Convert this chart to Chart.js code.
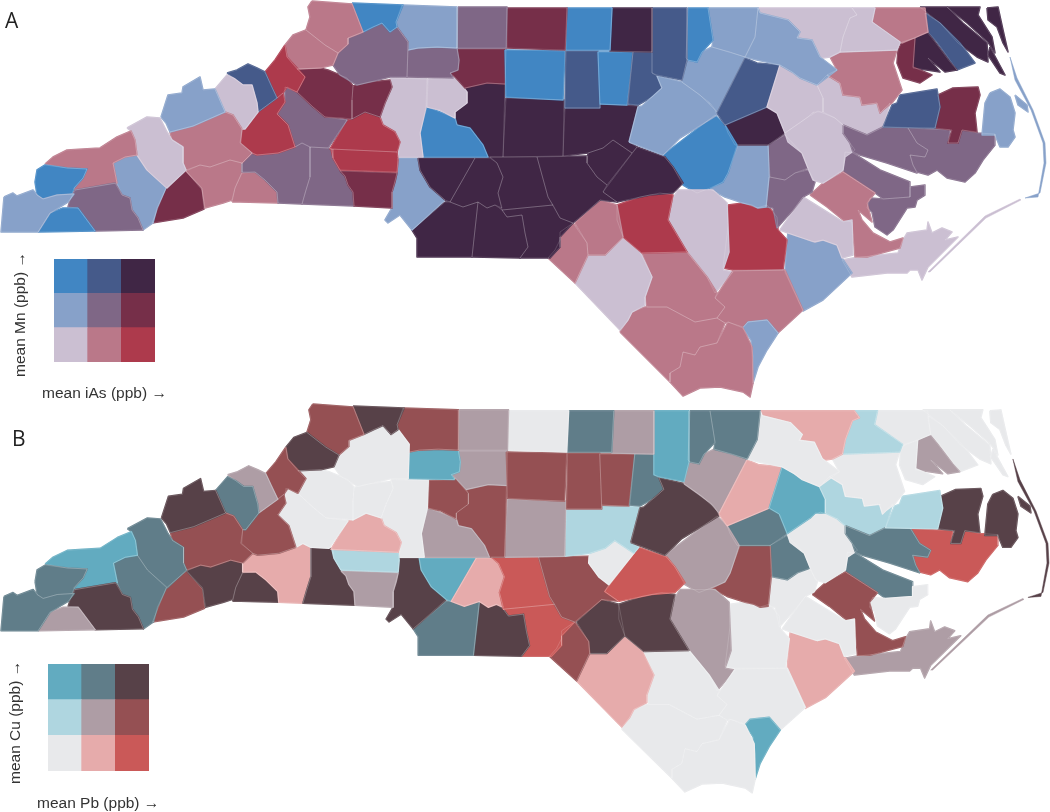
<!DOCTYPE html>
<html>
<head>
<meta charset="utf-8">
<title>Bivariate county maps</title>
<script src="https://cdn.jsdelivr.net/npm/chart.js@4/dist/chart.umd.min.js"></script>
<style>
  html, body { margin: 0; padding: 0; background: #fff; overflow: hidden; }
  #page { position: relative; width: 1050px; height: 812px; font-family: "Liberation Sans", Arial, sans-serif; color: #333; }
  .box { position: absolute; }
  .box canvas { display: block; }
  .map { filter: blur(0.5px); }
  .letter { position: absolute; font-family: "Open Sans", sans-serif; font-size: 21px; line-height: 21px; color: #222; }
  .axis { position: absolute; font-size: 15.5px; line-height: 16px; white-space: nowrap; }
  .axis.up { transform-origin: 0 0; transform: rotate(-90deg); }
</style>
</head>
<body>
<div id="page">
  <div class="box map" style="left:0;top:0;width:1050px;height:403px"><canvas id="mapA"></canvas></div>
  <div class="box map" style="left:0;top:403px;width:1050px;height:409px"><canvas id="mapB"></canvas></div>
  <div class="box map" style="left:54px;top:259px;width:101px;height:103px"><canvas id="keyA"></canvas></div>
  <div class="box map" style="left:48px;top:664px;width:101px;height:107px"><canvas id="keyB"></canvas></div>
  <div class="letter" style="left:5px;top:10px">A</div>
  <div class="letter" style="left:12px;top:428px">B</div>
  <div class="axis up" style="left:12px;top:377px">mean Mn (ppb) →</div>
  <div class="axis" style="left:42px;top:385px">mean iAs (ppb) →</div>
  <div class="axis up" style="left:7px;top:784px">mean Cu (ppb) →</div>
  <div class="axis" style="left:37px;top:795px">mean Pb (ppb) →</div>
</div>
<script>
// County outlines in map units (x east, y south)
const countyOutlines = [
  [[4,197],[13,193],[17,196],[33,190],[37,195],[43,199],[57,195],[74,194],[68,202],[50,213],[38,232],[1,232]],
  [[38,232],[50,213],[63,208],[78,208],[95,231]],
  [[70,200],[75,190],[115,183],[122,195],[130,198],[132,210],[138,218],[143,230],[95,231],[78,208],[68,207]],
  [[35,182],[37,170],[45,165],[67,168],[87,169],[83,178],[74,188],[72,194],[57,195],[43,199],[37,195]],
  [[45,164],[53,157],[67,150],[83,149],[100,148],[117,137],[131,131],[135,140],[137,155],[125,157],[113,163],[117,183],[75,190],[74,188],[83,178],[87,169],[67,168]],
  [[127,128],[147,117],[160,118],[167,132],[172,140],[183,147],[183,163],[186,170],[167,188],[147,170],[137,155],[135,140],[131,131]],
  [[113,163],[125,157],[137,155],[147,170],[166,188],[157,208],[153,223],[143,230],[138,218],[132,210],[130,198],[122,195],[117,183]],
  [[161,117],[168,95],[182,93],[183,87],[200,77],[203,90],[215,89],[225,112],[193,126],[170,132],[166,123]],
  [[170,132],[193,126],[225,112],[233,115],[242,129],[240,143],[252,153],[242,163],[230,160],[210,167],[200,165],[186,170],[183,163],[183,147],[172,140]],
  [[215,89],[227,75],[235,79],[243,85],[252,85],[257,103],[258,112],[245,129],[242,129],[233,115],[225,112]],
  [[227,73],[237,70],[248,64],[257,68],[265,72],[270,83],[277,98],[258,112],[257,103],[252,85],[243,85],[235,79]],
  [[258,112],[277,98],[283,93],[285,102],[277,114],[288,125],[295,147],[278,153],[257,155],[252,153],[241,143],[242,129],[245,129]],
  [[285,45],[287,57],[297,68],[305,77],[297,92],[287,87],[283,93],[277,98],[270,83],[265,72],[275,60]],
  [[285,45],[293,35],[306,30],[325,45],[338,53],[333,65],[320,68],[297,69],[287,57]],
  [[312,1],[352,4],[363,32],[348,38],[348,44],[338,53],[325,45],[306,30],[310,17],[308,7]],
  [[352,3],[403,5],[396,22],[397,27],[390,32],[382,23],[373,27],[363,32]],
  [[348,44],[348,38],[363,32],[373,27],[382,23],[390,32],[397,27],[408,42],[407,77],[390,77],[370,82],[357,85],[340,75],[333,65],[338,53]],
  [[297,92],[305,77],[297,69],[320,68],[328,70],[340,75],[347,78],[353,86],[352,100],[352,119],[343,118],[325,117],[313,107]],
  [[285,87],[297,92],[313,107],[325,117],[347,120],[328,148],[310,147],[302,143],[295,147],[288,125],[277,114],[285,102]],
  [[353,86],[370,82],[390,80],[392,87],[385,103],[380,117],[365,112],[352,119],[352,100]],
  [[347,120],[352,119],[365,112],[380,117],[383,125],[395,132],[400,142],[397,152],[330,149]],
  [[331,149],[397,152],[398,160],[397,172],[340,170],[333,158]],
  [[340,171],[397,173],[395,182],[392,192],[392,208],[354,206],[353,192],[348,185],[345,176]],
  [[310,147],[328,148],[332,149],[333,158],[340,170],[345,176],[348,185],[353,192],[354,206],[302,204],[306,190],[310,177]],
  [[242,163],[252,153],[257,155],[278,153],[295,147],[302,143],[310,147],[310,177],[306,190],[302,204],[278,203],[277,192],[265,180],[255,172],[242,172]],
  [[232,202],[235,188],[242,173],[255,172],[265,180],[277,192],[278,203],[240,202]],
  [[186,171],[200,165],[210,167],[230,160],[242,163],[242,172],[235,188],[232,200],[223,203],[205,208],[202,188]],
  [[186,171],[202,190],[204,209],[183,218],[152,223],[158,208],[166,188]],
  [[402,5],[457,7],[457,48],[437,47],[418,48],[408,50],[408,42],[397,27],[396,22]],
  [[458,7],[507,7],[506,48],[457,48]],
  [[507,8],[567,8],[565,50],[507,48]],
  [[567,8],[612,8],[610,50],[566,50]],
  [[612,8],[652,8],[652,52],[610,51]],
  [[652,8],[687,8],[687,60],[682,80],[657,75],[652,73]],
  [[688,8],[708,8],[713,40],[702,52],[697,62],[688,60],[686,58]],
  [[708,8],[758,8],[755,37],[745,57],[730,52],[712,47],[713,40]],
  [[758,8],[760,13],[788,20],[800,32],[797,38],[812,40],[820,57],[837,70],[817,85],[800,78],[792,72],[780,65],[757,60],[745,57],[755,37]],
  [[758,8],[852,8],[857,15],[850,18],[843,37],[840,52],[830,57],[823,58],[820,57],[812,40],[797,38],[800,32],[788,20],[760,13]],
  [[852,8],[875,8],[872,22],[900,42],[897,50],[840,52],[843,37],[850,18],[857,15]],
  [[875,8],[925,8],[928,32],[902,43],[872,22]],
  [[830,57],[840,52],[897,50],[893,63],[902,90],[892,103],[883,110],[880,113],[877,103],[862,105],[860,97],[843,95],[840,83],[827,75],[837,70]],
  [[902,42],[915,38],[913,67],[932,75],[920,83],[903,78],[897,63],[898,50]],
  [[915,38],[927,32],[935,42],[950,62],[957,70],[945,72],[928,58],[940,72],[913,68]],
  [[925,13],[940,23],[960,43],[975,63],[962,68],[957,70],[950,60],[937,42],[928,32]],
  [[920,7],[947,7],[963,23],[987,43],[988,62],[977,57],[958,43],[940,23]],
  [[947,7],[980,7],[978,15],[992,37],[995,53],[988,42],[967,23]],
  [[987,8],[998,7],[1003,30],[1008,52],[1003,43],[997,27],[988,20]],
  [[990,47],[1005,75],[1000,73],[988,55]],
  [[1010,57],[1017,78],[1033,110],[1045,143],[1046,163],[1040,193],[1025,198],[1038,197],[1044,163],[1043,143],[1031,110],[1015,80]],
  [[1015,95],[1027,105],[1028,112],[1018,105]],
  [[900,95],[937,89],[940,107],[935,128],[883,127],[892,105],[897,103]],
  [[938,95],[953,88],[978,87],[980,95],[975,113],[977,132],[962,130],[958,143],[948,143],[952,130],[935,128],[940,107]],
  [[990,93],[1000,89],[1010,97],[1015,113],[1013,130],[1015,137],[1008,147],[1000,147],[995,135],[982,135],[985,103]],
  [[843,125],[867,135],[883,127],[908,128],[917,143],[928,150],[925,157],[910,155],[913,165],[917,173],[887,163],[860,155],[853,152],[850,143],[843,133]],
  [[908,128],[950,130],[948,143],[958,143],[962,130],[978,133],[995,134],[995,145],[983,160],[975,173],[965,182],[947,178],[937,170],[928,175],[917,172],[913,165],[910,155],[925,157],[928,150],[917,143]],
  [[817,85],[827,75],[840,83],[843,95],[860,97],[862,105],[877,103],[880,113],[890,103],[883,127],[867,135],[843,125],[835,118],[823,112],[823,98]],
  [[780,65],[792,72],[800,78],[817,85],[823,98],[823,112],[813,112],[808,117],[785,133],[777,113],[767,107]],
  [[785,133],[808,117],[818,111],[835,118],[843,125],[843,133],[850,143],[855,150],[845,157],[843,170],[823,183],[813,180],[808,168],[802,153],[788,142]],
  [[717,113],[745,58],[757,63],[780,65],[767,107],[725,125]],
  [[682,82],[687,60],[697,62],[702,52],[712,47],[745,57],[717,112],[710,103],[697,93],[683,83]],
  [[629,142],[638,107],[642,106],[652,97],[662,88],[657,76],[682,82],[700,95],[715,110],[717,115],[680,138],[663,155]],
  [[652,52],[633,52],[628,104],[638,105],[652,97],[662,88],[657,76],[652,73]],
  [[598,52],[633,52],[627,105],[600,104]],
  [[566,51],[598,51],[600,108],[565,108]],
  [[505,50],[565,51],[563,100],[506,97]],
  [[408,50],[418,48],[437,47],[457,48],[459,60],[458,70],[450,73],[453,78],[407,77]],
  [[457,49],[506,49],[505,84],[487,83],[465,88],[455,77],[450,73],[458,70],[459,60]],
  [[390,78],[427,79],[426,107],[420,133],[423,157],[398,157],[400,142],[395,132],[383,125],[380,117],[385,103],[392,87]],
  [[428,79],[455,78],[467,92],[467,103],[455,112],[455,118],[440,110],[427,107]],
  [[427,107],[440,112],[455,118],[457,125],[470,128],[483,145],[488,157],[423,157],[420,133]],
  [[465,88],[487,83],[505,84],[503,157],[488,157],[483,145],[470,128],[457,125],[455,118],[455,112],[467,103],[467,92]],
  [[506,98],[564,100],[563,156],[503,157]],
  [[565,108],[600,108],[600,104],[638,106],[629,142],[637,147],[632,153],[613,140],[603,148],[588,153],[563,156]],
  [[588,153],[603,148],[613,140],[632,153],[607,185],[597,177],[587,163]],
  [[637,147],[665,157],[673,167],[683,183],[673,193],[650,195],[617,202],[603,192]],
  [[537,157],[587,156],[587,163],[597,177],[607,185],[603,192],[617,202],[600,200],[573,223],[560,218],[548,197]],
  [[490,157],[537,157],[548,197],[553,205],[502,210],[498,193],[503,177],[497,163]],
  [[475,158],[490,158],[497,163],[503,177],[498,193],[502,208],[495,205],[487,208],[478,202],[463,207],[450,202]],
  [[418,158],[475,158],[450,202],[445,200],[430,187],[420,170]],
  [[398,158],[418,158],[420,170],[430,187],[445,200],[412,230],[400,215],[388,223],[385,220],[392,208],[392,192],[397,173]],
  [[445,202],[450,202],[463,207],[478,202],[472,257],[417,257],[417,238],[412,230]],
  [[478,202],[487,208],[495,205],[502,210],[507,217],[522,215],[525,233],[528,247],[520,258],[472,257]],
  [[502,210],[553,205],[560,218],[573,223],[560,237],[560,247],[550,258],[520,258],[528,247],[525,233],[522,215],[507,217]],
  [[573,223],[587,243],[588,255],[575,283],[548,258],[555,250],[560,240],[560,232]],
  [[575,223],[600,200],[617,205],[623,237],[605,255],[588,255],[587,243]],
  [[617,205],[640,197],[660,193],[673,195],[668,220],[687,252],[642,253],[623,237],[617,220]],
  [[575,283],[588,255],[605,255],[623,238],[640,252],[652,277],[645,297],[645,305],[632,312],[628,320],[620,330]],
  [[642,253],[687,252],[707,277],[717,293],[715,298],[725,307],[717,318],[695,322],[667,307],[647,307],[645,297],[652,277]],
  [[620,332],[628,320],[632,312],[645,307],[667,307],[695,322],[717,318],[725,323],[717,343],[700,347],[695,355],[683,352],[680,367],[670,373],[670,382]],
  [[670,382],[670,373],[680,367],[683,352],[695,355],[700,347],[717,343],[728,322],[743,328],[752,347],[753,383],[750,397],[743,392],[720,387],[700,388],[683,396]],
  [[743,328],[748,322],[767,320],[778,333],[767,350],[758,367],[753,383],[753,357],[751,340]],
  [[715,298],[733,271],[785,270],[803,310],[778,333],[767,320],[748,322],[743,327],[728,322],[725,323],[717,318],[725,307]],
  [[678,190],[713,190],[727,203],[728,227],[729,252],[723,270],[733,272],[715,293],[707,277],[687,252],[668,220],[672,200]],
  [[663,155],[715,115],[725,125],[737,145],[728,173],[723,182],[710,188],[697,193],[683,185],[673,167]],
  [[725,125],[767,107],[777,113],[785,133],[768,145],[735,145],[728,133]],
  [[738,145],[768,145],[769,177],[766,207],[758,208],[752,205],[743,203],[725,197],[710,189],[723,182],[728,173]],
  [[768,145],[785,135],[802,153],[808,168],[795,173],[785,180],[770,177]],
  [[769,177],[785,180],[795,173],[808,170],[815,182],[812,192],[803,197],[793,210],[777,228],[773,208],[766,207]],
  [[728,205],[743,203],[757,208],[767,205],[777,217],[778,230],[787,240],[783,270],[733,270],[723,268],[728,227]],
  [[780,230],[803,197],[843,222],[852,220],[853,255],[842,258],[837,245],[823,240],[815,242],[788,233]],
  [[788,233],[813,242],[823,240],[837,245],[842,258],[852,273],[837,287],[823,300],[803,311],[785,272],[787,240]],
  [[810,195],[823,183],[843,172],[875,193],[867,203],[872,222],[858,210],[862,220],[873,233],[890,242],[903,238],[900,248],[867,257],[855,257],[852,222],[843,220],[827,207]],
  [[867,208],[870,198],[883,199],[910,197],[910,187],[925,185],[925,195],[917,200],[915,207],[907,208],[893,230],[887,235],[875,227],[872,212]],
  [[845,152],[853,153],[880,170],[910,182],[910,197],[883,199],[875,193],[843,172]],
  [[842,260],[853,258],[898,253],[903,240],[907,233],[927,230],[928,222],[932,233],[942,228],[952,232],[945,240],[958,237],[928,267],[922,280],[918,270],[910,270],[907,273],[887,273],[852,277]],
  [[928,272],[985,216],[1020,199],[1021,200],[986,218],[930,272]]
];

// Bivariate class of each county, same order as countyOutlines
// 0-8 = low/mid/high on x, then low/mid/high on y
const panelAClasses = [3,6,4,6,1,0,3,3,1,0,7,2,2,1,1,6,4,5,4,5,2,2,5,4,4,1,1,5,3,4,5,6,8,7,6,3,3,0,0,1,1,5,8,7,8,8,8,8,3,3,7,5,3,4,4,0,0,0,7,3,3,7,6,7,6,4,5,0,0,6,8,8,8,8,8,8,8,8,8,3,8,8,8,1,1,2,0,1,1,1,3,1,0,6,8,3,4,4,2,0,3,1,4,4,0,0];
const panelBClasses = [7,4,8,7,6,7,7,8,5,7,4,5,5,8,5,8,0,0,0,0,1,3,4,8,1,8,8,5,5,4,0,7,4,6,7,7,0,1,3,0,0,0,4,0,0,0,0,0,8,8,3,8,8,7,2,3,6,0,1,4,8,7,5,5,5,6,4,0,5,4,5,4,3,0,2,5,2,1,6,8,7,8,2,5,8,8,1,0,0,0,6,0,4,4,7,5,7,0,0,0,1,5,0,7,4,4];

const panelAColors = ['#cbbfd2','#ba7889','#ad3a4c','#87a1c9','#7f6786','#762f49','#4186c3','#455a8a','#402645'];
const panelBColors = ['#e8e9eb','#e6abab','#ca5958','#afd6e0','#ae9da5','#955053','#62abc0','#607d89','#574148'];

// Legend squares: one equal share per column, stacked for the three rows
const keyColumns = ['low', 'mid', 'high'];
const keyShares = [1, 1, 1];

// thin sand bars get no white edge, it would eat them
const barIslands = [48, 105];

const hiddenAxis = { display: false, grid: { display: false } };

function drawMap(canvasId, classes, palette, xMax, yMax, edge) {
    const toPoints = outline => outline.concat([outline[0]]).map(p => ({ x: p[0], y: p[1] }));

    // Solid pieces first, stroked in their own colour so neighbours close up
    const fills = countyOutlines.map((outline, i) => ({
        data: toPoints(outline),
        showLine: true,
        fill: 'shape',
        backgroundColor: palette[classes[i]],
        borderColor: palette[classes[i]],
        borderWidth: barIslands.includes(i) ? 0.5 : 1.5,
        borderJoinStyle: 'round', // mitre joins leave spikes on the sharp corners
        tension: 0,
        pointRadius: 0,
        clip: false,
        order: 2
    }));
    // Then the thin white county lines on top
    const edges = countyOutlines.map((outline, i) => ({
        data: toPoints(outline),
        showLine: true,
        fill: false,
        borderColor: barIslands.includes(i) ? 'transparent' : edge,
        borderWidth: 0.7,
        borderJoinStyle: 'round',
        tension: 0,
        pointRadius: 0,
        clip: false,
        order: 1
    }));

    return new Chart(document.getElementById(canvasId), {
        type: 'scatter',
        data: { datasets: fills.concat(edges) },
        options: {
            animation: false,
            responsive: true,
            maintainAspectRatio: false,
            layout: { padding: 0 },
            events: [],
            scales: {
                x: { ...hiddenAxis, type: 'linear', min: 0, max: xMax },
                y: { ...hiddenAxis, type: 'linear', reverse: true, min: 0, max: yMax }
            },
            plugins: { legend: { display: false }, tooltip: { enabled: false } }
        }
    });
}

function drawKey(canvasId, palette) {
    // bottom row first, the stack grows upward
    const datasets = [0, 1, 2].map(row => ({
        data: keyShares,
        backgroundColor: keyColumns.map((c, col) => palette[row * 3 + col]),
        borderWidth: 0,
        barPercentage: 1,
        categoryPercentage: 1
    }));

    return new Chart(document.getElementById(canvasId), {
        type: 'bar',
        data: { labels: keyColumns, datasets: datasets },
        options: {
            animation: false,
            responsive: true,
            maintainAspectRatio: false,
            layout: { padding: 0 },
            events: [],
            scales: {
                x: { ...hiddenAxis, stacked: true },
                y: { ...hiddenAxis, stacked: true, min: 0, max: 3 }
            },
            plugins: { legend: { display: false }, tooltip: { enabled: false } }
        }
    });
}

drawMap('mapA', panelAClasses, panelAColors, 1050, 403, 'rgba(255,255,255,0.22)');
// Panel B is the same map, a touch wider and flatter on the page
drawMap('mapB', panelBClasses, panelBColors, 1047, 416.5, 'rgba(255,255,255,0.22)');
drawKey('keyA', panelAColors);
drawKey('keyB', panelBColors);
</script>
</body>
</html>
